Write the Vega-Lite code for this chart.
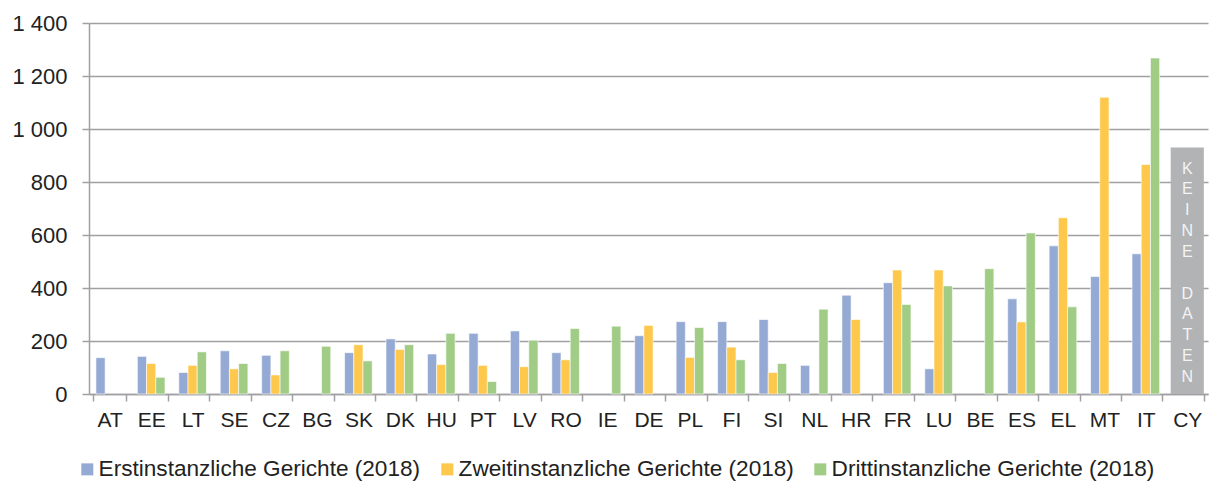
{
  "$schema": "https://vega.github.io/schema/vega-lite/v6.json",
  "width": 1119,
  "height": 371,
  "autosize": {"type": "none"},
  "padding": {"left": 89, "top": 23, "right": 16, "bottom": 89},
  "background": "white",
  "config": {
    "view": {"stroke": null},
    "font": "Liberation Sans",
    "axis": {"labelFont": "Liberation Sans", "labelColor": "#222222"},
    "legend": {"labelFont": "Liberation Sans"}
  },
  "datasets": {
    "werte": [
      {"land": "AT", "gericht": "Erstinstanzliche Gerichte (2018)", "wert": 137},
      {"land": "EE", "gericht": "Erstinstanzliche Gerichte (2018)", "wert": 142},
      {"land": "EE", "gericht": "Zweitinstanzliche Gerichte (2018)", "wert": 115},
      {"land": "EE", "gericht": "Drittinstanzliche Gerichte (2018)", "wert": 63},
      {"land": "LT", "gericht": "Erstinstanzliche Gerichte (2018)", "wert": 81},
      {"land": "LT", "gericht": "Zweitinstanzliche Gerichte (2018)", "wert": 108},
      {"land": "LT", "gericht": "Drittinstanzliche Gerichte (2018)", "wert": 159},
      {"land": "SE", "gericht": "Erstinstanzliche Gerichte (2018)", "wert": 163},
      {"land": "SE", "gericht": "Zweitinstanzliche Gerichte (2018)", "wert": 95},
      {"land": "SE", "gericht": "Drittinstanzliche Gerichte (2018)", "wert": 115},
      {"land": "CZ", "gericht": "Erstinstanzliche Gerichte (2018)", "wert": 146},
      {"land": "CZ", "gericht": "Zweitinstanzliche Gerichte (2018)", "wert": 72},
      {"land": "CZ", "gericht": "Drittinstanzliche Gerichte (2018)", "wert": 163},
      {"land": "BG", "gericht": "Drittinstanzliche Gerichte (2018)", "wert": 180},
      {"land": "SK", "gericht": "Erstinstanzliche Gerichte (2018)", "wert": 156},
      {"land": "SK", "gericht": "Zweitinstanzliche Gerichte (2018)", "wert": 186},
      {"land": "SK", "gericht": "Drittinstanzliche Gerichte (2018)", "wert": 125},
      {"land": "DK", "gericht": "Erstinstanzliche Gerichte (2018)", "wert": 208},
      {"land": "DK", "gericht": "Zweitinstanzliche Gerichte (2018)", "wert": 168},
      {"land": "DK", "gericht": "Drittinstanzliche Gerichte (2018)", "wert": 186},
      {"land": "HU", "gericht": "Erstinstanzliche Gerichte (2018)", "wert": 151},
      {"land": "HU", "gericht": "Zweitinstanzliche Gerichte (2018)", "wert": 111},
      {"land": "HU", "gericht": "Drittinstanzliche Gerichte (2018)", "wert": 229},
      {"land": "PT", "gericht": "Erstinstanzliche Gerichte (2018)", "wert": 229},
      {"land": "PT", "gericht": "Zweitinstanzliche Gerichte (2018)", "wert": 108},
      {"land": "PT", "gericht": "Drittinstanzliche Gerichte (2018)", "wert": 47},
      {"land": "LV", "gericht": "Erstinstanzliche Gerichte (2018)", "wert": 238},
      {"land": "LV", "gericht": "Zweitinstanzliche Gerichte (2018)", "wert": 103},
      {"land": "LV", "gericht": "Drittinstanzliche Gerichte (2018)", "wert": 203},
      {"land": "RO", "gericht": "Erstinstanzliche Gerichte (2018)", "wert": 156},
      {"land": "RO", "gericht": "Zweitinstanzliche Gerichte (2018)", "wert": 129},
      {"land": "RO", "gericht": "Drittinstanzliche Gerichte (2018)", "wert": 247},
      {"land": "IE", "gericht": "Drittinstanzliche Gerichte (2018)", "wert": 256},
      {"land": "DE", "gericht": "Erstinstanzliche Gerichte (2018)", "wert": 220},
      {"land": "DE", "gericht": "Zweitinstanzliche Gerichte (2018)", "wert": 259},
      {"land": "PL", "gericht": "Erstinstanzliche Gerichte (2018)", "wert": 273},
      {"land": "PL", "gericht": "Zweitinstanzliche Gerichte (2018)", "wert": 138},
      {"land": "PL", "gericht": "Drittinstanzliche Gerichte (2018)", "wert": 251},
      {"land": "FI", "gericht": "Erstinstanzliche Gerichte (2018)", "wert": 273},
      {"land": "FI", "gericht": "Zweitinstanzliche Gerichte (2018)", "wert": 177},
      {"land": "FI", "gericht": "Drittinstanzliche Gerichte (2018)", "wert": 129},
      {"land": "SI", "gericht": "Erstinstanzliche Gerichte (2018)", "wert": 281},
      {"land": "SI", "gericht": "Zweitinstanzliche Gerichte (2018)", "wert": 81},
      {"land": "SI", "gericht": "Drittinstanzliche Gerichte (2018)", "wert": 115},
      {"land": "NL", "gericht": "Erstinstanzliche Gerichte (2018)", "wert": 108},
      {"land": "NL", "gericht": "Drittinstanzliche Gerichte (2018)", "wert": 320},
      {"land": "HR", "gericht": "Erstinstanzliche Gerichte (2018)", "wert": 373},
      {"land": "HR", "gericht": "Zweitinstanzliche Gerichte (2018)", "wert": 281},
      {"land": "FR", "gericht": "Erstinstanzliche Gerichte (2018)", "wert": 420},
      {"land": "FR", "gericht": "Zweitinstanzliche Gerichte (2018)", "wert": 468},
      {"land": "FR", "gericht": "Drittinstanzliche Gerichte (2018)", "wert": 338},
      {"land": "LU", "gericht": "Erstinstanzliche Gerichte (2018)", "wert": 95},
      {"land": "LU", "gericht": "Zweitinstanzliche Gerichte (2018)", "wert": 468},
      {"land": "LU", "gericht": "Drittinstanzliche Gerichte (2018)", "wert": 408},
      {"land": "BE", "gericht": "Drittinstanzliche Gerichte (2018)", "wert": 473},
      {"land": "ES", "gericht": "Erstinstanzliche Gerichte (2018)", "wert": 359},
      {"land": "ES", "gericht": "Zweitinstanzliche Gerichte (2018)", "wert": 272},
      {"land": "ES", "gericht": "Drittinstanzliche Gerichte (2018)", "wert": 608},
      {"land": "EL", "gericht": "Erstinstanzliche Gerichte (2018)", "wert": 559},
      {"land": "EL", "gericht": "Zweitinstanzliche Gerichte (2018)", "wert": 665},
      {"land": "EL", "gericht": "Drittinstanzliche Gerichte (2018)", "wert": 329},
      {"land": "MT", "gericht": "Erstinstanzliche Gerichte (2018)", "wert": 443},
      {"land": "MT", "gericht": "Zweitinstanzliche Gerichte (2018)", "wert": 1120},
      {"land": "IT", "gericht": "Erstinstanzliche Gerichte (2018)", "wert": 529},
      {"land": "IT", "gericht": "Zweitinstanzliche Gerichte (2018)", "wert": 866},
      {"land": "IT", "gericht": "Drittinstanzliche Gerichte (2018)", "wert": 1268}
    ],
    "hinweis": [
      {"land": "CY", "wert": 930, "wort1": "K|E|I|N|E", "wort2": "D|A|T|E|N"}
    ]
  },
  "layer": [
    {
      "data": {"name": "werte"},
      "mark": {"type": "bar", "stroke": "white", "strokeWidth": 0.6},
      "encoding": {
        "x": {
          "field": "land", "type": "nominal",
          "sort": ["AT","EE","LT","SE","CZ","BG","SK","DK","HU","PT","LV","RO","IE","DE","PL","FI","SI","NL","HR","FR","LU","BE","ES","EL","MT","IT","CY"],
          "scale": {"domain": ["AT","EE","LT","SE","CZ","BG","SK","DK","HU","PT","LV","RO","IE","DE","PL","FI","SI","NL","HR","FR","LU","BE","ES","EL","MT","IT","CY"], "paddingInner": 0.2, "paddingOuter": 0.1},
          "axis": {
            "title": null, "labelAngle": 0, "labelFontSize": 21, "labelPadding": 8,
            "domainColor": "#A0A0A2", "domainWidth": 1.5,
            "tickColor": "#A0A0A2", "tickWidth": 1.5, "tickSize": 7, "tickBand": "extent",
            "grid": false
          }
        },
        "xOffset": {
          "field": "gericht", "type": "nominal",
          "sort": ["Erstinstanzliche Gerichte (2018)", "Zweitinstanzliche Gerichte (2018)", "Drittinstanzliche Gerichte (2018)"],
          "scale": {"paddingInner": 0, "paddingOuter": 0.3}
        },
        "y": {
          "field": "wert", "type": "quantitative",
          "scale": {"domain": [0, 1400], "nice": false},
          "axis": {
            "title": null, "values": [0,200,400,600,800,1000,1200,1400],
            "labelExpr": "replace(format(datum.value, ','), ',', ' ')",
            "labelFontSize": 22, "labelPadding": 15,
            "domainColor": "#A0A0A2", "domainWidth": 1.5,
            "tickColor": "#A0A0A2", "tickWidth": 1.5, "tickSize": 7,
            "gridColor": "#A0A0A2", "gridWidth": 1.5
          }
        },
        "color": {
          "field": "gericht", "type": "nominal",
          "sort": ["Erstinstanzliche Gerichte (2018)", "Zweitinstanzliche Gerichte (2018)", "Drittinstanzliche Gerichte (2018)"],
          "scale": {"range": ["#94A9D3", "#FDC84B", "#A0CC85"]},
          "legend": {
            "title": null, "orient": "none", "direction": "horizontal", "columns": 3,
            "legendX": -13, "legendY": 435, "padding": 0,
            "symbolType": "square", "symbolSize": 144, "symbolStrokeWidth": 0,
            "labelFontSize": 22.6, "labelColor": "#222222", "labelOffset": 0, "labelLimit": 0,
            "columnPadding": 15
          }
        }
      }
    },
    {
      "data": {"name": "hinweis"},
      "mark": {"type": "bar", "color": "#B2B3B5"},
      "encoding": {
        "x": {"field": "land", "type": "nominal"},
        "y": {"field": "wert", "type": "quantitative"}
      }
    },
    {
      "data": {"name": "hinweis"},
      "mark": {"type": "text", "color": "#F4F4F4", "fontSize": 16, "lineBreak": "|", "lineHeight": 20.8, "baseline": "top", "align": "center", "dy": 13},
      "encoding": {
        "x": {"field": "land", "type": "nominal", "bandPosition": 0.5},
        "y": {"field": "wert", "type": "quantitative"},
        "text": {"field": "wort1"}
      }
    },
    {
      "data": {"name": "hinweis"},
      "mark": {"type": "text", "color": "#F4F4F4", "fontSize": 16, "lineBreak": "|", "lineHeight": 20.8, "baseline": "top", "align": "center", "dy": 138},
      "encoding": {
        "x": {"field": "land", "type": "nominal", "bandPosition": 0.5},
        "y": {"field": "wert", "type": "quantitative"},
        "text": {"field": "wort2"}
      }
    }
  ]
}
